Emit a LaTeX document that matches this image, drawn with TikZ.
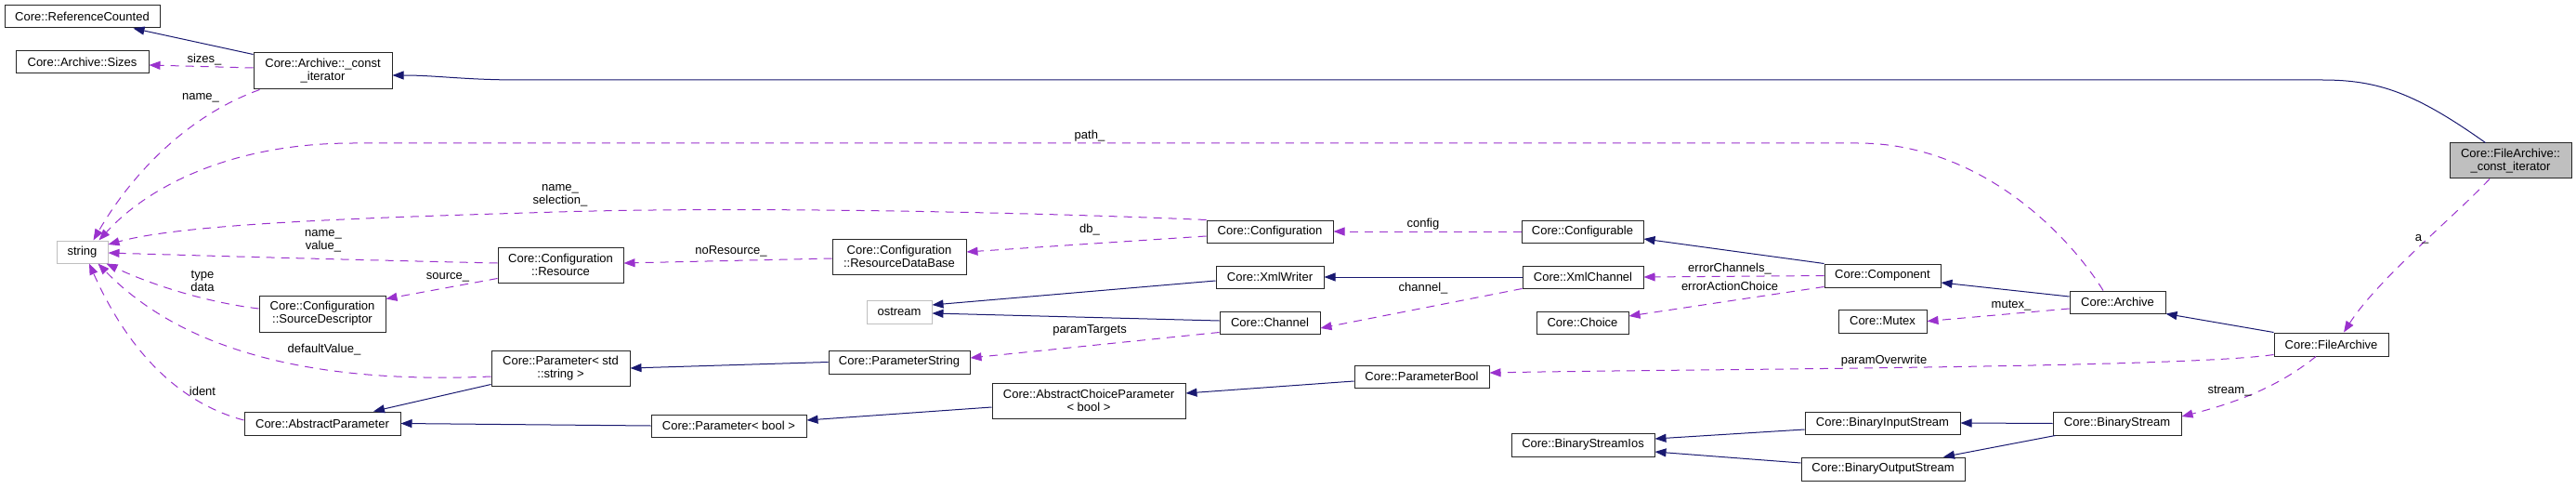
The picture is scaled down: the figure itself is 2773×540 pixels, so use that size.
\documentclass[tikz,border=0pt]{standalone}
\usepackage{fontspec}
\setmainfont{Liberation Sans}
\usetikzlibrary{arrows.meta}
\definecolor{inhblue}{HTML}{191970}
\definecolor{usepurple}{HTML}{9A32CD}
\definecolor{boxgrey}{HTML}{BFBFBF}
\begin{document}
\begin{tikzpicture}[x=1pt,y=-1pt,
  cls/.style={draw=black!85, line width=1pt, fill=white, inner sep=0pt, align=center,
    font=\fontsize{13}{14}\selectfont, minimum height=24pt},
  ext/.style={cls, draw=boxgrey},
  inh/.style={draw=inhblue, line width=1pt, -{Triangle[length=12pt,width=9pt]}},
  use/.style={draw=usepurple, line width=1pt, dash pattern=on 9pt off 7pt, -{Triangle[length=12pt,width=9pt]}},
  lbl/.style={font=\fontsize{13}{14}\selectfont, inner sep=0pt, align=center}]
\useasboundingbox (0,0) rectangle (2773,540);
% nodes
\node[cls, minimum width=167pt] (refc) at (88.5,18) {Core::ReferenceCounted};
\node[cls, minimum width=143pt] (sizes) at (88.5,67) {Core::Archive::Sizes};
\node[cls, minimum width=149pt, minimum height=39pt] (aci) at (347.5,76.5) {Core::Archive::\_const\\\_iterator};
\node[ext, minimum width=55pt] (str) at (88.5,271) {string};
\node[cls, minimum width=136pt, minimum height=39pt] (srcdesc) at (347,337.5) {Core::Configuration\\::SourceDescriptor};
\node[cls, minimum width=168pt, minimum height=25pt] (absparam) at (347,455.5) {Core::AbstractParameter};
\node[cls, minimum width=135pt, minimum height=38pt] (resource) at (603.5,285) {Core::Configuration\\::Resource};
\node[cls, minimum width=149pt, minimum height=38pt] (paramstr) at (603.5,396) {Core::Parameter< std\\::string >};
\node[cls, minimum width=144pt, minimum height=38pt] (resdb) at (968,276) {Core::Configuration\\::ResourceDataBase};
\node[ext, minimum width=70pt, minimum height=25pt] (ostream) at (968,335.5) {ostream};
\node[cls, minimum width=152pt, minimum height=25pt] (parameterstring) at (968,389.5) {Core::ParameterString};
\node[cls, minimum width=167pt] (parambool) at (784.5,458) {Core::Parameter< bool >};
\node[cls, minimum width=208pt, minimum height=38pt] (abschoice) at (1172,431) {Core::AbstractChoiceParameter\\< bool >};
\node[cls, minimum width=136pt] (config) at (1367,249) {Core::Configuration};
\node[cls, minimum width=116pt] (xmlwriter) at (1367,298) {Core::XmlWriter};
\node[cls, minimum width=108pt] (channel) at (1367,347) {Core::Channel};
\node[cls, minimum width=145pt] (parameterbool) at (1530.5,405) {Core::ParameterBool};
\node[cls, minimum width=131pt] (configurable) at (1703.5,249) {Core::Configurable};
\node[cls, minimum width=130pt] (xmlchannel) at (1704,298) {Core::XmlChannel};
\node[cls, minimum width=99pt] (choice) at (1703.5,347) {Core::Choice};
\node[cls, minimum width=154pt, minimum height=25pt] (binios) at (1704,478.5) {Core::BinaryStreamIos};
\node[cls, minimum width=125pt, minimum height=25pt] (component) at (2026.5,296.5) {Core::Component};
\node[cls, minimum width=95pt, minimum height=25pt] (mutex) at (2026.5,345.5) {Core::Mutex};
\node[cls, minimum width=167pt] (bininput) at (2026.5,455) {Core::BinaryInputStream};
\node[cls, minimum width=176pt, minimum height=25pt] (binoutput) at (2027,504.5) {Core::BinaryOutputStream};
\node[cls, minimum width=103pt] (archive) at (2279.5,325) {Core::Archive};
\node[cls, minimum width=138pt, minimum height=25pt] (binstream) at (2279,455.5) {Core::BinaryStream};
\node[cls, fill=boxgrey, minimum width=131pt, minimum height=38pt] (faci) at (2702.5,173) {Core::FileArchive::\\\_const\_iterator};
\node[cls, minimum width=123pt, minimum height=25pt] (filearchive) at (2509.5,370.5) {Core::FileArchive};
% inheritance
\draw[inh] ([yshift=-2pt]aci.north west) -- ([xshift=55pt]refc.south);
\draw[inh] ([xshift=-27pt]faci.north) .. controls (2600,100) and (2560,86) .. (2500,86) -- (560,86) .. controls (500,86) and (470,81) .. ([yshift=-4.5pt]aci.east);
\draw[inh] ([yshift=2pt]paramstr.south west) -- ([xshift=55pt]absparam.north);
\draw[inh] (parambool.west) -- (absparam.east);
\draw[inh] (parameterstring.west) -- (paramstr.east);
\draw[inh] ([yshift=-7pt]abschoice.west) -- ([yshift=6pt]parambool.east);
\draw[inh] ([yshift=-5pt]parameterbool.west) -- ([yshift=8pt]abschoice.east);
\draw[inh] ([yshift=-4pt]xmlwriter.west) -- ([yshift=7.5pt]ostream.east);
\draw[inh] ([yshift=2pt]channel.west) -- ([yshift=-1.5pt]ostream.east);
\draw[inh] (xmlchannel.west) -- (xmlwriter.east);
\draw[inh] (component.north west) -- ([yshift=-8pt]configurable.east);
\draw[inh] ([yshift=6pt]archive.west) -- ([yshift=-7.5pt]component.east);
\draw[inh] (filearchive.north west) -- (archive.south east);
\draw[inh] ([yshift=-7pt]bininput.west) -- ([yshift=6.5pt]binios.east);
\draw[inh] ([yshift=6.5pt]binoutput.west) -- ([yshift=-7.5pt]binios.east);
\draw[inh] (binstream.west) -- (bininput.east);
\draw[inh] ([xshift=3pt]binstream.south west) -- ([xshift=65pt]binoutput.north);
% usage
\draw[use] ([yshift=3.5pt]aci.west) -- ([yshift=-3pt]sizes.east);
\draw[use] ([xshift=7pt]aci.south west) .. controls (200,125) and (140,190) .. ([xshift=12pt]str.north);
\draw[use] ([xshift=-15.5pt]archive.north) .. controls (2225,250) and (2130,154) .. (2000,154) -- (380,154) .. controls (250,154) and (160,200) .. ([xshift=18pt]str.north);
\draw[use] (config.north west) .. controls (1100,228) and (800,222) .. (600,228) .. controls (400,234) and (200,240) .. ([yshift=8pt]str.east);
\draw[use] ([yshift=2pt]resource.west) .. controls (400,280) and (250,276) .. ([yshift=-1pt]str.east);
\draw[use] ([yshift=-2pt]resdb.west) -- ([yshift=2pt]resource.east);
\draw[use] ([yshift=-5pt]config.west) -- ([yshift=5pt]resdb.east);
\draw[use] ([yshift=5pt]resource.south west) -- ([yshift=-4pt]srcdesc.north east);
\draw[use] ([yshift=5.5pt]srcdesc.west) .. controls (220,325) and (160,305) .. ([xshift=-2pt]str.south east);
\draw[use] ([yshift=-9pt]paramstr.west) .. controls (300,415) and (180,360) .. ([xshift=-11pt]str.south east);
\draw[use] ([yshift=3.5pt]absparam.west) .. controls (180,430) and (130,360) .. ([xshift=7.5pt]str.south);
\draw[use] (configurable.west) -- (config.east);
\draw[use] (xmlchannel.south west) -- ([yshift=-6pt]channel.east);
\draw[use] ([yshift=2pt]channel.south west) -- ([yshift=4.5pt]parameterstring.east);
\draw[use] (component.west) -- (xmlchannel.east);
\draw[use] ([yshift=1pt]component.south west) -- ([yshift=7pt]choice.east);
\draw[use] ([yshift=-7pt]archive.west) -- (mutex.east);
\draw[use] ([yshift=2pt]filearchive.south west) .. controls (2350,396) and (1800,397) .. ([yshift=4pt]parameterbool.east);
\draw[use] ([xshift=-16.5pt]filearchive.south) .. controls (2460,410) and (2420,430) .. ([yshift=7.5pt]binstream.east);
\draw[use] ([xshift=-22.5pt]faci.south) .. controls (2640,235) and (2560,300) .. ([xshift=13.5pt]filearchive.north);
% labels
\node[lbl] (l1) at (220,64) {sizes\_};
\node[lbl] (l2) at (216,105) {name\_};
\node[lbl] (l3) at (1173,146) {path\_};
\node[lbl] (l4) at (603,210.5) {name\_\\selection\_};
\node[lbl] (l5) at (348,259.5) {name\_\\value\_};
\node[lbl] (l6) at (787,270) {noResource\_};
\node[lbl] (l7) at (1173,247) {db\_};
\node[lbl] (l8) at (482,298) {source\_};
\node[lbl] (l9) at (218,302) {type\\data};
\node[lbl] (l10) at (349,376) {defaultValue\_};
\node[lbl] (l11) at (218,421) {ident};
\node[lbl] (l12) at (1532,241) {config};
\node[lbl] (l13) at (1532,310) {channel\_};
\node[lbl] (l14) at (1173,355) {paramTargets};
\node[lbl] (l15) at (1862,289) {errorChannels\_};
\node[lbl] (l16) at (1862,308) {errorActionChoice};
\node[lbl] (l17) at (2165,329) {mutex\_};
\node[lbl] (l18) at (2028,388) {paramOverwrite};
\node[lbl] (l19) at (2400,421) {stream\_};
\node[lbl] (l20) at (2607,257) {a\_};
\end{tikzpicture}
\end{document}
